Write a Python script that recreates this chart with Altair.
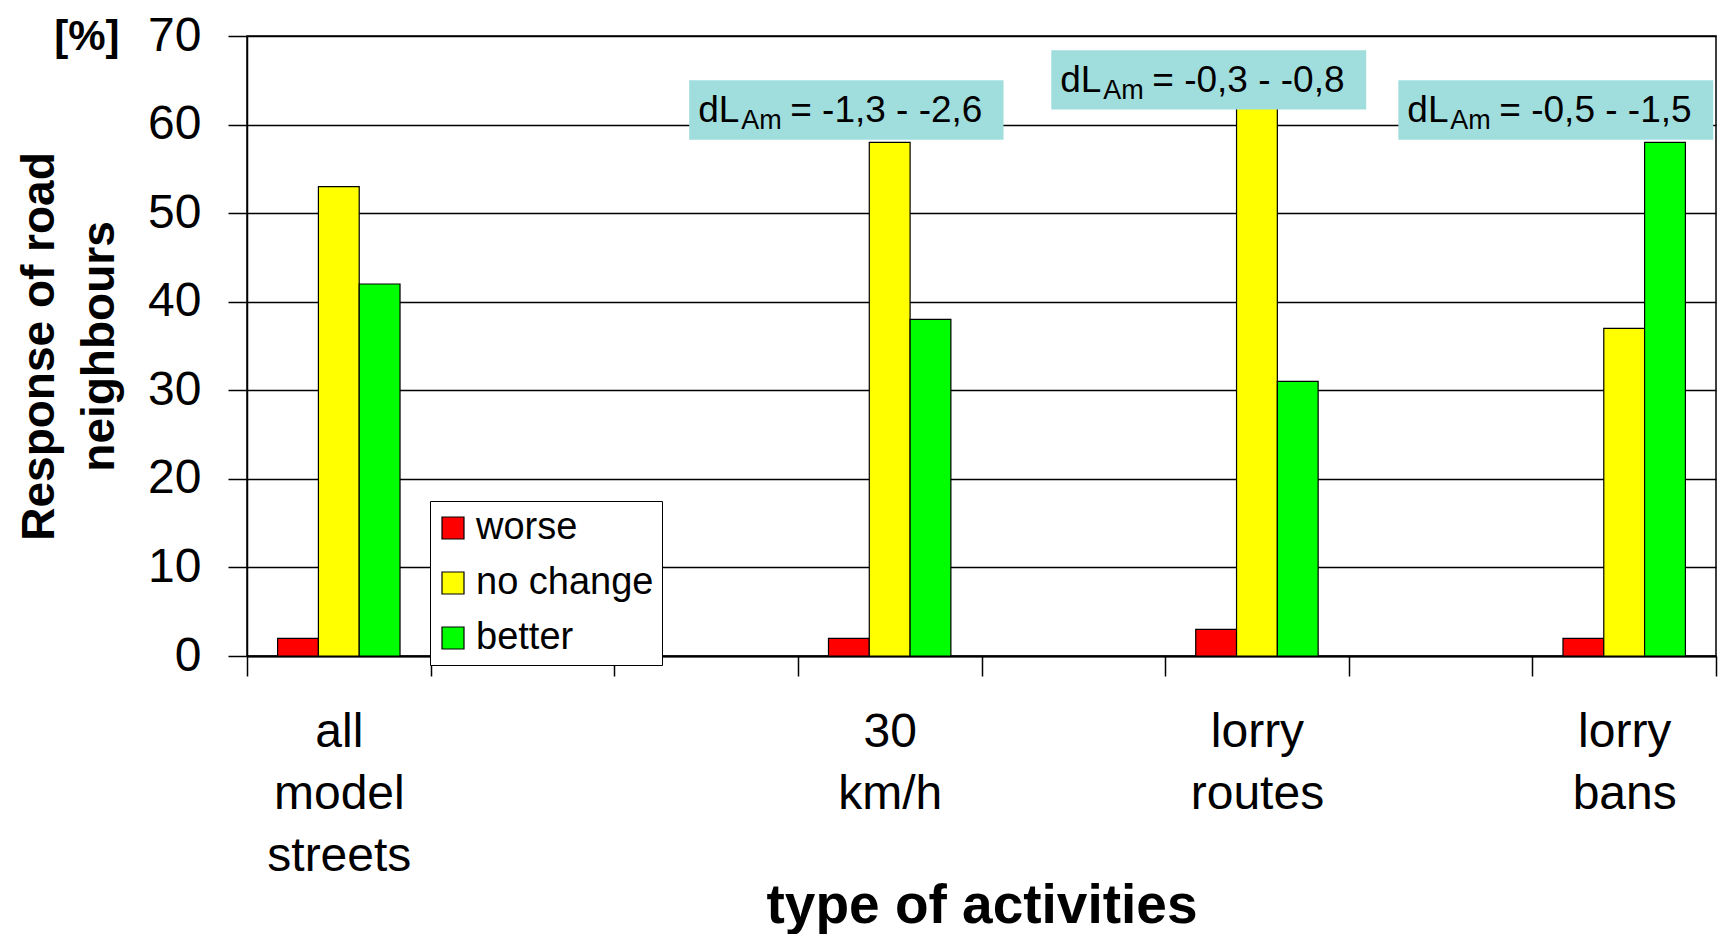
import altair as alt
import pandas as pd

FONT = "Liberation Sans, Arial, sans-serif"

# --- data ---------------------------------------------------------------
categories = ["all model streets", "blank1", "blank2", "30 km/h",
              "blank3", "lorry routes", "blank4", "lorry bans"]
activities = ["all model streets", "30 km/h", "lorry routes", "lorry bans"]
responses = ["worse", "no change", "better"]
worse = [2, 2, 3, 2]
no_change = [53, 58, 63, 37]
better = [42, 38, 31, 58]
colors = ["#FF0000", "#FFFF00", "#00FF00"]

# annotation boxes (x in category-slot units, y in %)
ann_text = ["= -1,3 - -2,6", "= -0,3 - -0,8", "= -0,5 - -1,5"]
ann_x0 = [2.408, 4.380, 6.270]
ann_x1 = [4.120, 6.095, 7.985]
ann_y0 = [58.3, 61.7, 58.3]
ann_y1 = [65.0, 68.4, 65.0]

unit_label = ["[%]"]
unit_x = [-0.872]
unit_y = [70]

# --- tables ---------------------------------------------------------------
rows = []
for i, a in enumerate(activities):
    for r, vals in zip(responses, [worse, no_change, better]):
        rows.append({"activity": a, "response": r, "value": vals[i]})
bars_df = pd.DataFrame(rows)

ann_df = pd.DataFrame({"x0": ann_x0, "x1": ann_x1, "y0": ann_y0,
                       "y1": ann_y1, "rest": ann_text})
unit_df = pd.DataFrame({"t": unit_label, "x": unit_x, "y": unit_y})

yscale = alt.Scale(domain=[0, 70], nice=False, zero=True)
xq = alt.Scale(domain=[0, 8], nice=False, zero=False)

bars = alt.Chart(bars_df).mark_bar(stroke="black", strokeWidth=1.2).encode(
    x=alt.X("activity:N",
            scale=alt.Scale(domain=categories, paddingInner=0, paddingOuter=0),
            axis=alt.Axis(
                title="type of activities",
                titleFont=FONT, titleFontSize=55, titleFontWeight="bold",
                titleColor="black", titleBaseline="alphabetic", titleY=266,
                labelFont=FONT, labelFontSize=48, labelColor="black",
                labelAngle=0, labelLineHeight=62, labelPadding=32,
                labelExpr="isString(datum.value) && indexof(datum.value, 'blank') !== 0 ? split(datum.value, ' ') : ''",
                tickBand="extent", tickSize=20, tickColor="black", tickWidth=1.5,
                domainColor="black", domainWidth=2, grid=False,
            )),
    xOffset=alt.XOffset("response:N", sort=responses,
                        scale=alt.Scale(domain=responses, paddingInner=0, paddingOuter=0.75)),
    y=alt.Y("value:Q", scale=yscale,
            axis=alt.Axis(
                title=["Response of road", "neighbours"],
                titleFont=FONT, titleFontSize=46, titleFontWeight="bold",
                titleColor="black", titleBaseline="alphabetic",
                titleLineHeight=60, titleX=-194, titleY=310, titleAngle=270,
                titleAlign="center",
                values=[0, 10, 20, 30, 40, 50, 60, 70],
                labelFont=FONT, labelFontSize=48, labelColor="black",
                labelPadding=27, tickSize=19, tickColor="black", tickWidth=1.5,
                domainColor="black", domainWidth=1.5,
                grid=True, gridColor="black", gridWidth=1.5,
            )),
    color=alt.Color("response:N", sort=responses,
                    scale=alt.Scale(domain=responses, range=colors),
                    legend=alt.Legend(
                        orient="none", legendX=183, legendY=465, title=None,
                        direction="vertical", symbolType="square",
                        symbolSize=484, symbolStrokeColor="black",
                        symbolStrokeWidth=1.2, symbolOpacity=1,
                        symbolOffset=-4,
                        labelFont=FONT, labelFontSize=38, labelColor="black",
                        labelOffset=4, labelLimit=0, rowPadding=17,
                        padding=8, strokeColor="black", fillColor="white",
                    )),
)

boxes = alt.Chart(ann_df).mark_rect(fill="#A0DEDE").encode(
    x=alt.X("x0:Q", scale=xq, axis=None), x2="x1",
    y=alt.Y("y0:Q", scale=yscale, axis=None), y2="y1",
)
t_dl = alt.Chart(ann_df).mark_text(
    text="dL", align="left", baseline="alphabetic", dx=9, dy=-17.4,
    font=FONT, fontSize=37, color="black").encode(
    x=alt.X("x0:Q", scale=xq, axis=None),
    y=alt.Y("y0:Q", scale=yscale, axis=None))
t_sub = alt.Chart(ann_df).mark_text(
    text="Am", align="left", baseline="alphabetic", dx=52, dy=-10.7,
    font=FONT, fontSize=27, color="black").encode(
    x=alt.X("x0:Q", scale=xq, axis=None),
    y=alt.Y("y0:Q", scale=yscale, axis=None))
t_rest = alt.Chart(ann_df).mark_text(
    align="left", baseline="alphabetic", dx=101, dy=-17.4,
    font=FONT, fontSize=37, color="black").encode(
    x=alt.X("x0:Q", scale=xq, axis=None),
    y=alt.Y("y0:Q", scale=yscale, axis=None),
    text="rest:N")
unit = alt.Chart(unit_df).mark_text(
    align="center", baseline="middle", dy=1,
    font=FONT, fontSize=42, fontWeight="bold", color="black").encode(
    x=alt.X("x:Q", scale=xq, axis=None),
    y=alt.Y("y:Q", scale=yscale, axis=None),
    text="t:N")

chart = alt.layer(bars, boxes, t_dl, t_sub, t_rest, unit).resolve_scale(
    x="independent", xOffset="independent"
).resolve_axis(y="independent").properties(
    width=1469, height=620,
    autosize=alt.AutoSizeParams(type="none"),
    padding={"left": 239, "top": 28, "right": 2, "bottom": 278},
    background="white",
).configure_view(stroke="black", strokeWidth=1.5)

chart.save("out.html", embed_options={"renderer": "svg", "actions": False})
